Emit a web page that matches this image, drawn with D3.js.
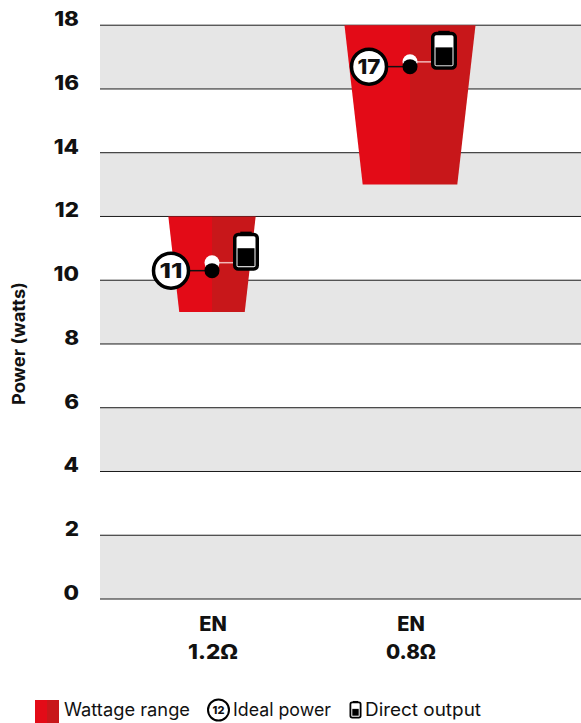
<!DOCTYPE html>
<html>
<head>
<meta charset="utf-8">
<script src="https://cdn.jsdelivr.net/npm/d3@7"></script>
<style>
  html, body { margin: 0; padding: 0; background: #fff; }
  svg { display: block; }
  text { font-family: Inter, "Noto Sans", sans-serif; fill: #111; }
  .bold { font-weight: 800; }
</style>
</head>
<body>
<svg id="chart" width="581" height="723"></svg>
<script>
// data
var categories = ["EN 1.2Ω", "EN 0.8Ω"];
var rangeLow = [9, 13];
var rangeHigh = [12, 18];
var idealPower = [11, 17];
var idealLevel = [10.3, 16.7];
var directLevel = [10.55, 16.85];
var batteryFill = [0.62, 0.62];
var yTicks = [0, 2, 4, 6, 8, 10, 12, 14, 16, 18];

var RED = "#e30b17", DARK_RED = "#c8171a", GREY = "#e6e6e6", INK = "#111";

var svg = d3.select("#chart");

var x = d3.scaleBand().domain(categories).range([113, 509]);
var y = d3.scaleLinear().domain([0, 18]).range([599, 25.2]);
// the trapezoid's width goes with the wattage
var w = d3.scaleLinear().domain([0, 18]).range([0, 65.5]);

var rows = categories.map(function (c, i) {
  return {
    cat: c,
    cx: x(c) + x.bandwidth() / 2,
    low: rangeLow[i],
    high: rangeHigh[i],
    ideal: idealPower[i],
    idealY: y(idealLevel[i]),
    directY: y(directLevel[i]),
    fill: batteryFill[i]
  };
});

// grey bands
svg.append("g")
  .selectAll("rect")
  .data(yTicks.filter(function (t) { return t % 4 === 0 && t < 18; }))
  .enter()
  .append("rect")
  .attr("x", 100)
  .attr("width", 481)
  .attr("y", function (d) { return y(d + 2); })
  .attr("height", function (d) { return y(d) - y(d + 2); })
  .attr("fill", GREY);

// gridlines
svg.append("g")
  .selectAll("line")
  .data(yTicks)
  .enter()
  .append("line")
  .attr("x1", 100)
  .attr("x2", 581)
  .attr("y1", function (d) { return y(d); })
  .attr("y2", function (d) { return y(d); })
  .attr("stroke", "#1a1a1a")
  .attr("stroke-width", 1);

// tick labels, a bit wider than the font draws them
svg.append("g")
  .selectAll("text")
  .data(yTicks)
  .enter()
  .append("text")
  .attr("class", "bold")
  .attr("transform", function (d) { return "translate(79," + (y(d) + 0.8) + ") scale(1.12,1)"; })
  .attr("text-anchor", "end")
  .attr("font-size", 20)
  .text(function (d) { return d; });

svg.append("text")
  .attr("transform", "translate(25,343.5) rotate(-90)")
  .attr("text-anchor", "middle")
  .attr("font-size", 17.5)
  .attr("font-weight", 700)
  .attr("textLength", 123)
  .attr("lengthAdjust", "spacingAndGlyphs")
  .text("Power (watts)");

// wattage range, bright left half and dark right half
var bars = svg.append("g").selectAll("g").data(rows).enter().append("g");

bars.append("path")
  .attr("fill", RED)
  .attr("d", function (d) {
    return d3.line()([
      [d.cx - w(d.high), y(d.high)],
      [d.cx, y(d.high)],
      [d.cx, y(d.low)],
      [d.cx - w(d.low), y(d.low)]
    ]) + "Z";
  });

bars.append("path")
  .attr("fill", DARK_RED)
  .attr("d", function (d) {
    return d3.line()([
      [d.cx, y(d.high)],
      [d.cx + w(d.high), y(d.high)],
      [d.cx + w(d.low), y(d.low)],
      [d.cx, y(d.low)]
    ]) + "Z";
  });

// connectors
bars.append("line")
  .attr("x1", function (d) { return d.cx; })
  .attr("x2", function (d) { return d.cx + 26; })
  .attr("y1", function (d) { return d.directY; })
  .attr("y2", function (d) { return d.directY; })
  .attr("stroke", "#f2b8b8")
  .attr("stroke-width", 1.5);

bars.append("line")
  .attr("x1", function (d) { return d.cx - 30; })
  .attr("x2", function (d) { return d.cx; })
  .attr("y1", function (d) { return d.idealY; })
  .attr("y2", function (d) { return d.idealY; })
  .attr("stroke", INK)
  .attr("stroke-width", 1.5);

// dots
bars.append("circle")
  .attr("cx", function (d) { return d.cx; })
  .attr("cy", function (d) { return d.directY; })
  .attr("r", 7.5)
  .attr("fill", "#fff");

bars.append("circle")
  .attr("cx", function (d) { return d.cx; })
  .attr("cy", function (d) { return d.idealY; })
  .attr("r", 7.5)
  .attr("fill", "#000");

// ideal power badge
bars.append("circle")
  .attr("cx", function (d) { return d.cx - 41; })
  .attr("cy", function (d) { return d.idealY; })
  .attr("r", 17.5)
  .attr("fill", "#fff")
  .attr("stroke", "#000")
  .attr("stroke-width", 3.5);

bars.append("text")
  .attr("class", "bold")
  .attr("x", function (d) { return d.cx - 41; })
  .attr("y", function (d) { return d.idealY + 7.5; })
  .attr("text-anchor", "middle")
  .attr("font-size", 20.5)
  .attr("textLength", 23)
  .attr("lengthAdjust", "spacingAndGlyphs")
  .text(function (d) { return d.ideal; });

// battery icon, drawn around its centre
function battery(sel, bw, bh, sw, level) {
  sel.append("rect")
    .attr("x", -bw * 0.22)
    .attr("y", -bh / 2 - sw * 0.3)
    .attr("width", bw * 0.44)
    .attr("height", sw)
    .attr("fill", "#000");
  sel.append("rect")
    .attr("x", -bw / 2 + sw / 2)
    .attr("y", -bh / 2 + sw / 2)
    .attr("width", bw - sw)
    .attr("height", bh - sw)
    .attr("rx", sw)
    .attr("fill", "#fff")
    .attr("stroke", "#000")
    .attr("stroke-width", sw);
  sel.append("rect")
    .attr("x", -bw / 2 + sw + 1)
    .attr("width", bw - 2 * sw - 2)
    .attr("y", function (d) { return bh / 2 - sw - 1 - (bh - 2 * sw - 2) * level(d); })
    .attr("height", function (d) { return (bh - 2 * sw - 2) * level(d); })
    .attr("fill", "#000");
}

bars.append("g")
  .attr("transform", function (d) { return "translate(" + (d.cx + 34) + "," + (d.directY - 11) + ")"; })
  .call(battery, 26, 38, 3.5, function (d) { return d.fill; });

// category labels
bars.append("text")
  .attr("class", "bold")
  .attr("x", function (d) { return d.cx + 1; })
  .attr("y", 630.5)
  .attr("text-anchor", "middle")
  .attr("font-size", 20)
  .text(function (d) { return d.cat.split(" ")[0]; });

bars.append("text")
  .attr("class", "bold")
  .attr("x", function (d) { return d.cx + 1; })
  .attr("y", 659)
  .attr("text-anchor", "middle")
  .attr("font-size", 20)
  .attr("textLength", 50)
  .attr("lengthAdjust", "spacingAndGlyphs")
  .text(function (d) { return d.cat.split(" ")[1]; });

// legend
var legend = svg.append("g");

legend.append("rect").attr("x", 35).attr("y", 700).attr("width", 12).attr("height", 23).attr("fill", RED);
legend.append("rect").attr("x", 47).attr("y", 700).attr("width", 12).attr("height", 23).attr("fill", DARK_RED);
legend.append("text").attr("x", 64).attr("y", 716).attr("font-size", 18)
  .attr("textLength", 126).attr("lengthAdjust", "spacingAndGlyphs").text("Wattage range");

legend.append("circle")
  .attr("cx", 218.5).attr("cy", 710).attr("r", 10.5)
  .attr("fill", "#fff").attr("stroke", "#000").attr("stroke-width", 2);
legend.append("text")
  .attr("class", "bold")
  .attr("x", 218.5).attr("y", 714).attr("text-anchor", "middle").attr("font-size", 11)
  .text("12");
legend.append("text").attr("x", 233).attr("y", 716).attr("font-size", 18)
  .attr("textLength", 98).attr("lengthAdjust", "spacingAndGlyphs").text("Ideal power");

legend.append("g")
  .datum({ fill: 0.6 })
  .attr("transform", "translate(355.5,710)")
  .call(battery, 12, 17, 1.8, function (d) { return d.fill; });
legend.append("text").attr("x", 365).attr("y", 716).attr("font-size", 18)
  .attr("textLength", 116).attr("lengthAdjust", "spacingAndGlyphs").text("Direct output");
</script>
</body>
</html>
